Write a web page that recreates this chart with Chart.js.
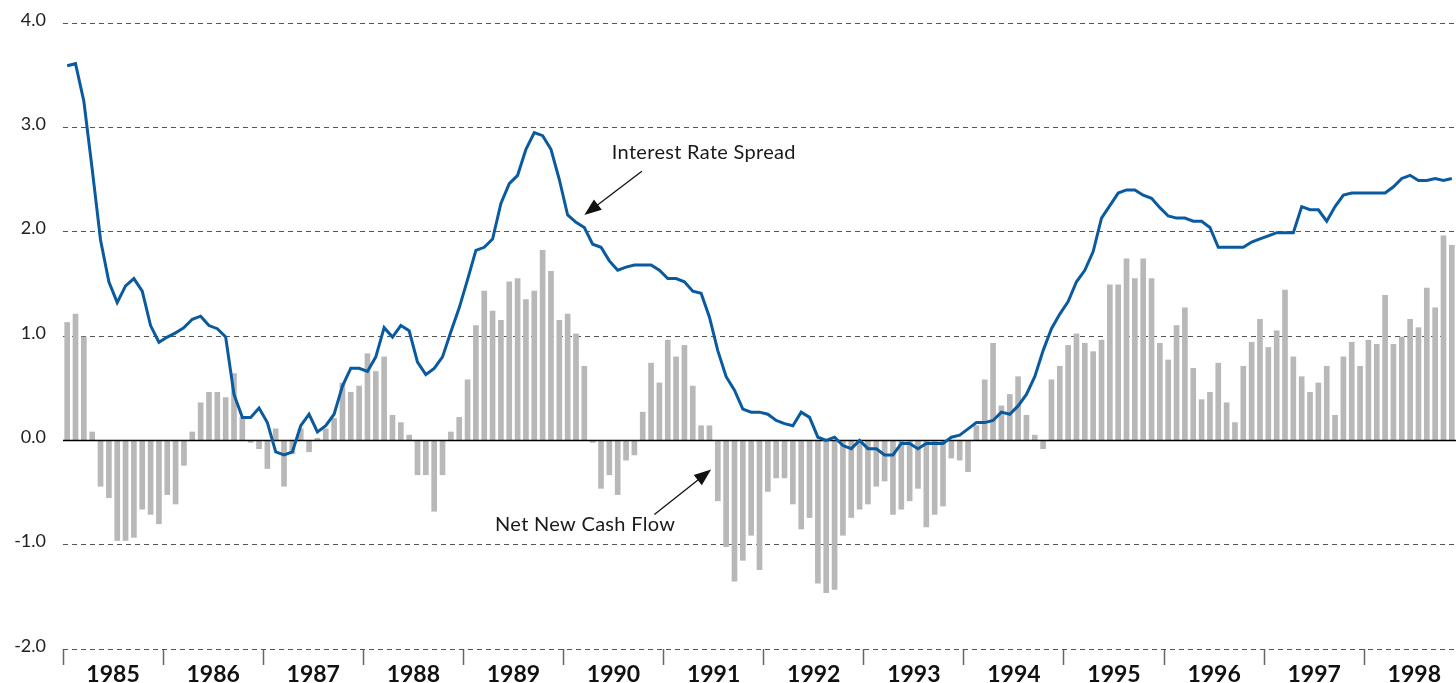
<!DOCTYPE html>
<html>
<head>
<meta charset="utf-8">
<script src="https://cdn.jsdelivr.net/npm/chart.js@4.4.1/dist/chart.umd.min.js"></script>
<style>
  html, body { margin: 0; padding: 0; background: #fff; overflow: hidden; }
  #wrap { width: 1456px; height: 683px; position: relative; }
</style>
</head>
<body>
<div id="wrap"><canvas id="spreadChart"></canvas></div>
<script>
// year labels (one per 12 months, Jan 1985 .. Nov 1998)
const years = ["1985", "1986", "1987", "1988", "1989", "1990", "1991",
               "1992", "1993", "1994", "1995", "1996", "1997", "1998"];

// net new cash flow, monthly (grey bars)
const cashFlow = [
  1.13, 1.21, 0.99, 0.08, -0.44, -0.55, -0.96, -0.96, -0.93, -0.66, -0.71, -0.80,   // 1985
  -0.52, -0.61, -0.24, 0.08, 0.36, 0.46, 0.46, 0.41, 0.64, 0.22, -0.02, -0.08,      // 1986
  -0.27, 0.11, -0.44, -0.13, 0.11, -0.11, 0.02, 0.11, 0.21, 0.55, 0.46, 0.52,       // 1987
  0.83, 0.66, 0.80, 0.24, 0.17, 0.05, -0.33, -0.33, -0.68, -0.33, 0.08, 0.22,       // 1988
  0.58, 1.10, 1.43, 1.24, 1.15, 1.52, 1.55, 1.35, 1.43, 1.82, 1.62, 1.15,           // 1989
  1.21, 1.02, 0.71, -0.02, -0.46, -0.33, -0.52, -0.19, -0.14, 0.27, 0.74, 0.55,     // 1990
  0.96, 0.80, 0.91, 0.52, 0.14, 0.14, -0.58, -1.02, -1.35, -1.15, -0.91, -1.24,     // 1991
  -0.49, -0.36, -0.36, -0.61, -0.85, -0.74, -1.37, -1.46, -1.43, -0.91, -0.74, -0.66, // 1992
  -0.61, -0.44, -0.39, -0.71, -0.66, -0.58, -0.46, -0.83, -0.71, -0.63, -0.17, -0.19, // 1993
  -0.30, 0.14, 0.58, 0.93, 0.33, 0.44, 0.61, 0.24, 0.05, -0.08, 0.58, 0.71,        // 1994
  0.91, 1.02, 0.93, 0.85, 0.96, 1.49, 1.49, 1.74, 1.55, 1.74, 1.55, 0.93,           // 1995
  0.77, 1.10, 1.27, 0.69, 0.39, 0.46, 0.74, 0.36, 0.17, 0.71, 0.94, 1.16,           // 1996
  0.89, 1.05, 1.44, 0.80, 0.61, 0.46, 0.55, 0.71, 0.24, 0.80, 0.94, 0.71,           // 1997
  0.96, 0.92, 1.39, 0.92, 0.99, 1.16, 1.08, 1.46, 1.27, 1.96, 1.87                  // 1998
];

// interest rate spread, monthly (blue line)
const spread = [
  3.59, 3.61, 3.25, 2.60, 1.92, 1.52, 1.32, 1.48, 1.55, 1.43, 1.10, 0.94,
  0.99, 1.03, 1.08, 1.16, 1.19, 1.10, 1.07, 0.99, 0.44, 0.22, 0.22, 0.31,
  0.17, -0.11, -0.14, -0.11, 0.14, 0.25, 0.08, 0.14, 0.25, 0.52, 0.69, 0.69,
  0.66, 0.80, 1.08, 0.99, 1.10, 1.05, 0.75, 0.63, 0.69, 0.80, 1.04, 1.27,
  1.54, 1.82, 1.85, 1.93, 2.27, 2.46, 2.54, 2.79, 2.95, 2.92, 2.79, 2.50,
  2.16, 2.09, 2.04, 1.88, 1.85, 1.72, 1.63, 1.66, 1.68, 1.68, 1.68, 1.63,
  1.55, 1.55, 1.52, 1.43, 1.41, 1.18, 0.86, 0.61, 0.48, 0.30, 0.27, 0.27,
  0.25, 0.19, 0.16, 0.14, 0.27, 0.22, 0.03, 0.00, 0.03, -0.05, -0.08, 0.00,
  -0.08, -0.08, -0.14, -0.14, -0.03, -0.03, -0.08, -0.03, -0.03, -0.03, 0.03, 0.05,
  0.11, 0.17, 0.17, 0.19, 0.27, 0.25, 0.33, 0.44, 0.61, 0.86, 1.07, 1.21,
  1.33, 1.52, 1.63, 1.81, 2.13, 2.25, 2.37, 2.40, 2.40, 2.35, 2.32, 2.23,
  2.15, 2.13, 2.13, 2.10, 2.10, 2.04, 1.85, 1.85, 1.85, 1.85, 1.90, 1.93,
  1.96, 1.99, 1.99, 1.99, 2.24, 2.21, 2.21, 2.10, 2.24, 2.35, 2.37, 2.37,
  2.37, 2.37, 2.37, 2.43, 2.51, 2.54, 2.49, 2.49, 2.51, 2.49, 2.51
];

const yTicks = [-2, -1, 0, 1, 2, 3, 4];

// month slot centres on the x scale (month i sits in [i, i+1])
const monthPos = cashFlow.map((_, i) => i + 0.5);

// callout texts, in axis units (x = months from Jan 1985, y = value)
const notes = [
  { text: "Interest Rate Spread", x: 65.8, y: 2.76, from: [69.4, 2.58], to: [62.5, 2.16] },
  { text: "Net New Cash Flow", x: 51.8, y: -0.81, from: [70.9, -0.71], to: [77.7, -0.28] }
];

const zeroLine = {
  id: "zeroLine",
  afterDatasetDraw(chart, args) {
    if (args.meta.type !== "bar") return;
    const { ctx, chartArea, scales } = chart;
    const y0 = Math.round(scales.y.getPixelForValue(0)) + 0.5;
    ctx.save();
    ctx.strokeStyle = "#000";
    ctx.lineWidth = 1.5;
    ctx.beginPath();
    ctx.moveTo(chartArea.left, y0);
    ctx.lineTo(chartArea.right, y0);
    ctx.stroke();
    ctx.restore();
  }
};

const callouts = {
  id: "callouts",
  afterDatasetsDraw(chart) {
    const { ctx, scales: { x, y } } = chart;
    ctx.save();
    ctx.font = "20px Lato";
    ctx.letterSpacing = "0.3px";
    ctx.fillStyle = "#1a1a1a";
    ctx.textBaseline = "middle";
    notes.forEach(n => {
      ctx.fillText(n.text, x.getPixelForValue(n.x), y.getPixelForValue(n.y));
      const x1 = x.getPixelForValue(n.from[0]), y1 = y.getPixelForValue(n.from[1]);
      const x2 = x.getPixelForValue(n.to[0]), y2 = y.getPixelForValue(n.to[1]);
      const a = Math.atan2(y2 - y1, x2 - x1);
      const len = 17, half = 6.5;
      ctx.strokeStyle = "#111";
      ctx.lineWidth = 1.3;
      ctx.beginPath();
      ctx.moveTo(x1, y1);
      ctx.lineTo(x2 - Math.cos(a) * len * 0.8, y2 - Math.sin(a) * len * 0.8);
      ctx.stroke();
      ctx.beginPath();
      ctx.moveTo(x2, y2);
      ctx.lineTo(x2 - Math.cos(a) * len + Math.sin(a) * half, y2 - Math.sin(a) * len - Math.cos(a) * half);
      ctx.lineTo(x2 - Math.cos(a) * len - Math.sin(a) * half, y2 - Math.sin(a) * len + Math.cos(a) * half);
      ctx.closePath();
      ctx.fillStyle = "#111";
      ctx.fill();
      ctx.fillStyle = "#1a1a1a";
    });
    ctx.restore();
  }
};

new Chart(document.getElementById("spreadChart"), {
  type: "bar",
  data: {
    datasets: [
      {
        type: "line",
        label: "Interest Rate Spread",
        data: spread.map((v, i) => ({ x: monthPos[i], y: v })),
        borderColor: "#0a5aa0",
        borderWidth: 3,
        pointRadius: 0,
        tension: 0,
        fill: false,
        order: 1
      },
      {
        type: "bar",
        label: "Net New Cash Flow",
        data: cashFlow.map((v, i) => ({ x: monthPos[i], y: v })),
        backgroundColor: "#b8b8b8",
        barThickness: 5,
        order: 2
      }
    ]
  },
  options: {
    responsive: true,
    maintainAspectRatio: false,
    animation: false,
    layout: { padding: { top: 23, left: 0, right: 0, bottom: 0 } },
    plugins: { legend: { display: false }, tooltip: { enabled: false } },
    scales: {
      x: {
        type: "linear",
        min: 0,
        max: cashFlow.length,
        offset: false,
        afterBuildTicks: scale => {
          const t = [];
          years.forEach((_, k) => {
            t.push({ value: k * 12 });
            if (k * 12 + 6 <= cashFlow.length) t.push({ value: k * 12 + 6 });
          });
          scale.ticks = t;
        },
        afterFit: scale => { scale.height = 34; },
        grid: {
          drawOnChartArea: false,
          drawTicks: true,
          offset: false,
          tickLength: 16,
          tickWidth: 1.5,
          tickColor: c => (c.tick && c.tick.value % 12 === 0) ? "#666" : "rgba(0,0,0,0)"
        },
        border: { display: false },
        ticks: {
          autoSkip: false,
          maxRotation: 0,
          padding: -4,
          color: "#111",
          font: { family: "Lato", size: 23, weight: "bold" },
          callback: v => (v % 12 === 6) ? years[(v - 6) / 12] : ""
        }
      },
      y: {
        min: yTicks[0],
        max: yTicks[yTicks.length - 1],
        afterBuildTicks: scale => { scale.ticks = yTicks.map(v => ({ value: v })); },
        afterFit: scale => {
          scale.width = 63;
          scale.paddingTop = 0;
          scale.paddingBottom = 0;
        },
        grid: {
          drawTicks: false,
          lineWidth: 1,
          color: c => (c.tick && c.tick.value === 0) ? "rgba(0,0,0,0)" : "#555"
        },
        border: { display: false, dash: [5, 4] },
        ticks: {
          padding: 17,
          labelOffset: -3,
          color: "#222",
          font: { family: "Lato", size: 18 },
          callback: v => v.toFixed(1)
        }
      }
    }
  },
  plugins: [zeroLine, callouts]
});
</script>
</body>
</html>
